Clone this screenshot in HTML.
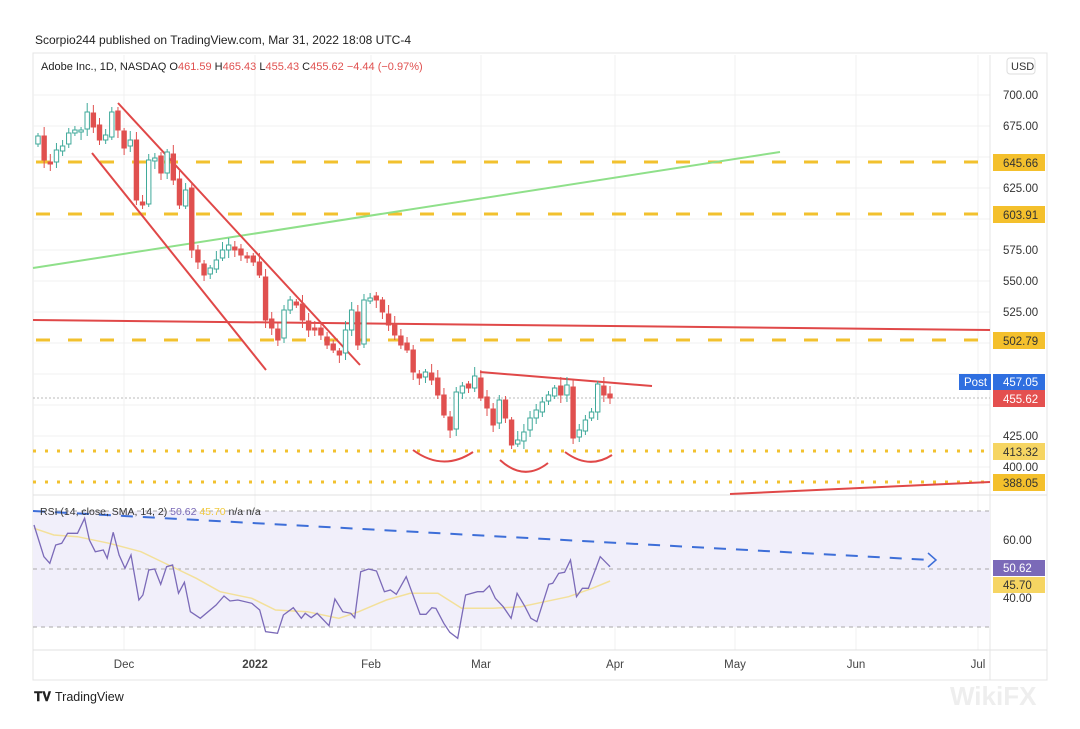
<!DOCTYPE html>
<html><head><meta charset="utf-8"><style>
body{margin:0;background:#fff;width:1080px;height:729px;overflow:hidden;font-family:"Liberation Sans",sans-serif}
svg{position:absolute;left:0;top:0}
</style></head><body>
<svg id="s" width="1080" height="729" viewBox="0 0 1080 729" font-family="Liberation Sans, sans-serif">
<rect x="0" y="0" width="1080" height="729" fill="#fff"/>
<text x="35" y="44" font-size="12" fill="#222">Scorpio244 published on TradingView.com, Mar 31, 2022 18:08 UTC-4</text>
<rect x="33" y="53" width="1014" height="627" fill="none" stroke="#e4e4e4"/>
<g stroke="#f1f1f1" stroke-width="1">
<line x1="124" y1="55" x2="124" y2="650"/><line x1="255" y1="55" x2="255" y2="650"/><line x1="371" y1="55" x2="371" y2="650"/><line x1="481" y1="55" x2="481" y2="650"/><line x1="615" y1="55" x2="615" y2="650"/><line x1="735" y1="55" x2="735" y2="650"/><line x1="856" y1="55" x2="856" y2="650"/><line x1="978" y1="55" x2="978" y2="650"/>
<line x1="33" y1="95" x2="990" y2="95"/><line x1="33" y1="126" x2="990" y2="126"/><line x1="33" y1="157" x2="990" y2="157"/><line x1="33" y1="188" x2="990" y2="188"/><line x1="33" y1="219" x2="990" y2="219"/><line x1="33" y1="250" x2="990" y2="250"/><line x1="33" y1="281" x2="990" y2="281"/><line x1="33" y1="312" x2="990" y2="312"/><line x1="33" y1="343" x2="990" y2="343"/><line x1="33" y1="374" x2="990" y2="374"/><line x1="33" y1="405" x2="990" y2="405"/><line x1="33" y1="436" x2="990" y2="436"/><line x1="33" y1="467" x2="990" y2="467"/>
</g>
<line x1="33" y1="495" x2="1047" y2="495" stroke="#e0e0e0"/>
<line x1="33" y1="650" x2="1047" y2="650" stroke="#e0e0e0"/>
<line x1="990" y1="55" x2="990" y2="680" stroke="#e4e4e4"/>
<text x="41" y="70" font-size="11" fill="#222">Adobe Inc., 1D, NASDAQ <tspan fill="#222">O</tspan><tspan fill="#e0504f">461.59</tspan> H<tspan fill="#e0504f">465.43</tspan> L<tspan fill="#e0504f">455.43</tspan> C<tspan fill="#e0504f">455.62</tspan> <tspan fill="#e0504f">−4.44 (−0.97%)</tspan></text>
<!-- yellow dashed levels -->
<g stroke="#f2c12e" stroke-width="3" stroke-dasharray="14 18">
<line x1="36" y1="162" x2="990" y2="162"/><line x1="36" y1="214" x2="990" y2="214"/><line x1="36" y1="340" x2="990" y2="340"/>
</g>
<g stroke="#f2c12e" stroke-width="3" stroke-dasharray="3 9">
<line x1="33" y1="451" x2="990" y2="451"/><line x1="33" y1="482" x2="990" y2="482"/>
</g>
<line x1="33" y1="398" x2="990" y2="398" stroke="#bbb" stroke-dasharray="2 2"/>
<line x1="33" y1="268" x2="780" y2="152" stroke="#8fe08a" stroke-width="2"/>
<g stroke="#e04848" stroke-width="2" fill="none">
<line x1="118" y1="103" x2="360" y2="365"/><line x1="92" y1="153" x2="266" y2="370"/>
<line x1="33" y1="320" x2="990" y2="330"/>
<line x1="480" y1="372" x2="652" y2="386"/>
<line x1="730" y1="494" x2="990" y2="482"/>
<path d="M413 450 Q443 472 473 452"/><path d="M500 460 Q524 482 548 463"/><path d="M565 452 Q589 470 612 455"/>
</g>
<g id="candles"></g>
<!-- RSI pane -->
<rect x="33" y="511" width="957" height="116" fill="#f1effa"/>
<g stroke="#aaa" stroke-dasharray="4 4"><line x1="33" y1="511" x2="990" y2="511"/><line x1="33" y1="569" x2="990" y2="569"/><line x1="33" y1="627" x2="990" y2="627"/></g>
<path id="sma" fill="none" stroke="#f3e09a" stroke-width="1.5"/>
<path id="rsi" fill="none" stroke="#7b6ab8" stroke-width="1.3"/>
<line x1="33" y1="511" x2="930" y2="560" stroke="#3d6ed8" stroke-width="2" stroke-dasharray="12 10"/>
<path d="M928 553 L936 560 L928 567" fill="none" stroke="#3d6ed8" stroke-width="1.5"/>
<text x="40" y="515" font-size="10.5" fill="#333">RSI (14, close, SMA, 14, 2) <tspan fill="#7b6ab8">50.62</tspan> <tspan fill="#f0c940">45.70</tspan> n/a n/a</text>
<!-- price axis -->
<g font-size="11.5" fill="#333">
<text x="1003" y="99">700.00</text><text x="1003" y="130">675.00</text><text x="1003" y="192">625.00</text><text x="1003" y="254">575.00</text><text x="1003" y="285">550.00</text><text x="1003" y="316">525.00</text><text x="1003" y="440">425.00</text><text x="1003" y="471">400.00</text>
<text x="1003" y="544">60.00</text><text x="1003" y="602">40.00</text>
</g>
<rect x="1007" y="58" width="28" height="16" rx="3" fill="#fff" stroke="#ddd"/>
<text x="1011" y="70" font-size="11" fill="#333">USD</text>
<g font-size="11.5">
<rect x="993" y="154" width="52" height="17" fill="#f4c02c"/><text x="1003" y="167" fill="#333">645.66</text>
<rect x="993" y="206" width="52" height="17" fill="#f4c02c"/><text x="1003" y="219" fill="#333">603.91</text>
<rect x="993" y="332" width="52" height="17" fill="#f4c02c"/><text x="1003" y="345" fill="#333">502.79</text>
<rect x="993" y="443" width="52" height="17" fill="#f6d562"/><text x="1003" y="456" fill="#333">413.32</text>
<rect x="993" y="474" width="52" height="17" fill="#f4c02c"/><text x="1003" y="487" fill="#333">388.05</text>
<rect x="959" y="374" width="32" height="16" fill="#2f6fe0"/><text x="964" y="386" fill="#fff">Post</text>
<rect x="993" y="374" width="52" height="16" fill="#2f6fe0"/><text x="1003" y="386" fill="#fff">457.05</text>
<rect x="993" y="390" width="52" height="17" fill="#e4504f"/><text x="1003" y="403" fill="#fff">455.62</text>
<rect x="993" y="560" width="52" height="16" fill="#7b6ab8"/><text x="1003" y="572" fill="#fff">50.62</text>
<rect x="993" y="577" width="52" height="16" fill="#f6d562"/><text x="1003" y="589" fill="#333">45.70</text>
</g>
<g font-size="11.5" fill="#444" text-anchor="middle">
<text x="124" y="668">Dec</text><text x="255" y="668" font-weight="bold">2022</text><text x="371" y="668">Feb</text><text x="481" y="668">Mar</text><text x="615" y="668">Apr</text><text x="735" y="668">May</text><text x="856" y="668">Jun</text><text x="978" y="668">Jul</text>
</g>
<text x="34" y="701" font-size="13" font-weight="bold" fill="#222">𝐓𝐕</text>
<text x="55" y="701" font-size="12.5" fill="#222">TradingView</text>
<text x="950" y="705" font-size="26" fill="#eee" font-weight="bold">WikiFX</text>
</svg>
<script>
var ys=[136,160,163,150,146,133,130,130,112,127,140,135,112,130,
148,140,200,205,160,158,173,152,180,205,190,250,262,275,268,260,250,245,250,255,258,
262,275,320,328,340,310,300,305,320,330,328,335,345,350,355,330,310,345,300,
298,300,312,325,335,345,350,372,378,372,380,395,415,430,392,386,388,376,
398,408,425,400,418,445,440,432,418,410,402,395,388,395,385,438,430,420,412,384,395,398];
var g='',n=ys.length,step=(610-38)/(n-1);
for(var i=0;i<n;i++){var x=38+i*step,c=ys[i],o=i?ys[i-1]+((i*7)%5-2):c+8;
var t=Math.min(o,c),b=Math.max(o,c);if(b-t<2)b=t+2;var wt=t-3-(i*13)%7,wb=b+3+(i*11)%6;
var up=c<o;var col=up?'#3fa99a':'#e0504f';
g+='<line x1="'+x+'" y1="'+wt+'" x2="'+x+'" y2="'+wb+'" stroke="'+col+'"/>';
g+='<rect x="'+(x-2.2)+'" y="'+t+'" width="4.4" height="'+(b-t)+'" fill="'+(up?'#fff':col)+'" stroke="'+col+'" stroke-width="1"/>';}
document.getElementById('candles').innerHTML=g;
function P(a){var d='';for(var i=0;i<a.length;i+=2){d+=(i?'L':'M')+(30+a[i]*0.396).toFixed(1)+' '+(495+a[i+1]/3).toFixed(1)+' ';}return d;}
document.getElementById('rsi').setAttribute('d',P([10,90,35,185,50,205,65,150,80,145,95,115,120,115,138,70,150,135,165,170,185,165,195,190,210,112,225,180,240,220,255,180,275,315,285,300,300,225,315,222,330,268,345,215,360,210,375,295,390,262,405,350,430,370,470,330,490,303,505,318,525,315,560,325,580,345,595,410,625,415,640,360,665,338,685,370,695,355,710,368,725,355,755,392,770,312,790,350,810,355,820,368,835,230,855,222,875,228,895,290,910,285,925,298,950,245,985,358,1000,358,1015,338,1025,340,1045,385,1060,412,1080,430,1100,300,1130,290,1145,290,1160,272,1175,310,1195,335,1215,370,1230,295,1250,335,1265,370,1280,380,1310,268,1320,265,1335,235,1350,232,1365,195,1380,305,1395,280,1410,280,1440,185,1465,215]));
document.getElementById('sma').setAttribute('d',P([10,100,60,120,120,125,200,145,280,170,350,210,420,250,480,290,560,310,620,345,700,350,780,370,830,350,900,315,960,295,1030,295,1090,340,1170,340,1240,335,1300,320,1360,305,1420,280,1465,258]));
</script>
</body></html>
